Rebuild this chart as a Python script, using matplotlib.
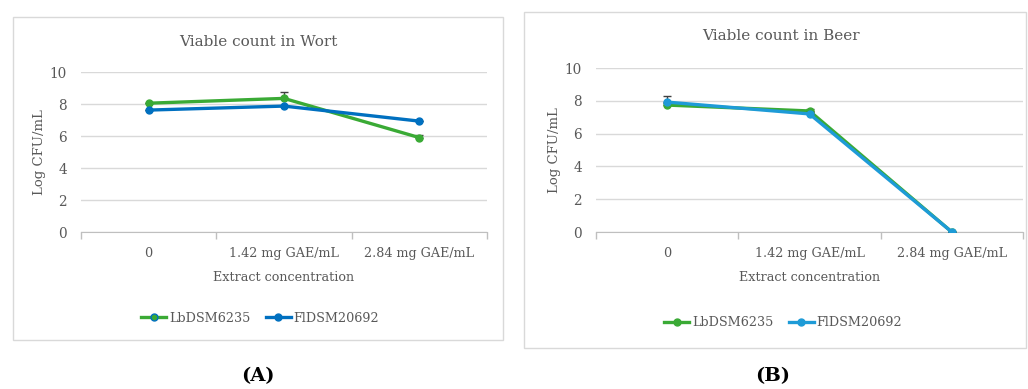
import matplotlib
matplotlib.use("Agg")
import matplotlib.pyplot as plt
from matplotlib.patches import Rectangle
from matplotlib.lines import Line2D

categories = ["0", "1.42 mg GAE/mL", "2.84 mg GAE/mL"]
series_names = ["LbDSM6235", "FlDSM20692"]

wort_lb = [8.05, 8.35, 5.9]
wort_lb_err = [0.0, 0.4, 0.15]
wort_fl = [7.62, 7.87, 6.93]
wort_fl_err = [0.0, 0.0, 0.0]

beer_lb = [7.74, 7.38, 0.0]
beer_lb_err = [0.15, 0.1, 0.0]
beer_fl = [7.92, 7.2, 0.0]
beer_fl_err = [0.4, 0.1, 0.0]

yticks = [0, 2, 4, 6, 8, 10]

W, H = 1028, 389
TXT = "#595959"
GREEN = "#3aaa35"
BLUE_A = "#0070c0"
BLUE_B = "#1e9bd7"
GRID = "#d9d9d9"

plt.rcParams['font.family'] = ['DejaVu Serif']

fig = plt.figure(figsize=(W / 100, H / 100), dpi=100)
fig.patch.set_facecolor("white")

FS = 9.2


def fx(x):
    return x / W


def fy(y):
    return 1 - y / H


def box(x0, y0, x1, y1):
    fig.patches.append(Rectangle((fx(x0), fy(y1)), fx(x1) - fx(x0), fy(y0) - fy(y1),
                                 transform=fig.transFigure, fill=False,
                                 edgecolor="#d9d9d9", linewidth=1.0))


def panel(left, right, top, bottom, title, lb, lb_err, fl, fl_err, blue, title_x, title_y,
          legend_x, legend_y, legend_variant):
    ax = fig.add_axes([fx(left), fy(bottom), fx(right) - fx(left), fy(top) - fy(bottom)])
    x = list(range(len(categories)))
    ax.errorbar(x, lb, yerr=[[0] * 3, lb_err], color=GREEN, lw=2.4, marker="o", ms=5,
                ecolor="#404040", elinewidth=1, capsize=3, zorder=3)
    ax.errorbar(x, fl, yerr=[[0] * 3, fl_err], color=blue, lw=2.4, marker="o", ms=5,
                ecolor="#404040", elinewidth=1, capsize=3, zorder=4)
    ax.set_xlim(-0.5, len(categories) - 0.5)
    ax.set_ylim(0, 10)
    ax.set_yticks(yticks)
    ax.set_yticklabels([str(v) for v in yticks], color=TXT, fontsize=FS + 0.6)
    ax.set_xticks(x)
    ax.set_xticklabels(categories, color=TXT, fontsize=FS)
    ax.set_xticks([i - 0.5 for i in range(len(categories) + 1)], minor=True)
    ax.tick_params(axis="x", which="major", length=0, pad=11)
    ax.tick_params(axis="x", which="minor", length=5, color="#bfbfbf", width=1)
    ax.tick_params(axis="y", length=0, pad=10)
    ax.grid(axis="y", color=GRID, lw=1)
    ax.set_axisbelow(True)
    for s in ["top", "right", "left"]:
        ax.spines[s].set_visible(False)
    ax.spines["bottom"].set_color("#bfbfbf")
    ax.set_ylabel("Log CFU/mL", color=TXT, fontsize=FS + 0.3, labelpad=3)
    ax.set_xlabel("Extract concentration", color=TXT, fontsize=FS, labelpad=8)
    fig.text(fx(title_x), fy(title_y), title, ha="center", va="center", color=TXT,
             fontsize=11)
    if legend_variant == "A":
        h1 = Line2D([], [], color=GREEN, lw=2.4, marker="o", ms=5, mfc=GREEN, mec=blue)
    else:
        h1 = Line2D([], [], color=GREEN, lw=2.4, marker="o", ms=5)
    h2 = Line2D([], [], color=blue, lw=2.4, marker="o", ms=5)
    leg = fig.legend([h1, h2], series_names, loc="center", ncol=2, frameon=False,
                     bbox_to_anchor=(fx(legend_x), fy(legend_y)), fontsize=FS,
                     handlelength=2.0, handletextpad=0.2, columnspacing=1.2)
    for t in leg.get_texts():
        t.set_color(TXT)
    return ax


box(13, 17, 503, 340)
box(524, 12, 1026, 348)

panel(81, 487, 72, 232, "Viable count in Wort", wort_lb, wort_lb_err, wort_fl, wort_fl_err,
      BLUE_A, 258, 42, 260, 318, "A")
panel(596, 1023, 68, 232, "Viable count in Beer", beer_lb, beer_lb_err, beer_fl, beer_fl_err,
      BLUE_B, 781, 36, 783, 323, "B")

fig.text(fx(258), fy(376), "(A)", ha="center", va="center", fontsize=14, fontweight="bold",
         color="black")
fig.text(fx(773), fy(376), "(B)", ha="center", va="center", fontsize=14, fontweight="bold",
         color="black")

fig.savefig("out.png", dpi=100, facecolor="white")
